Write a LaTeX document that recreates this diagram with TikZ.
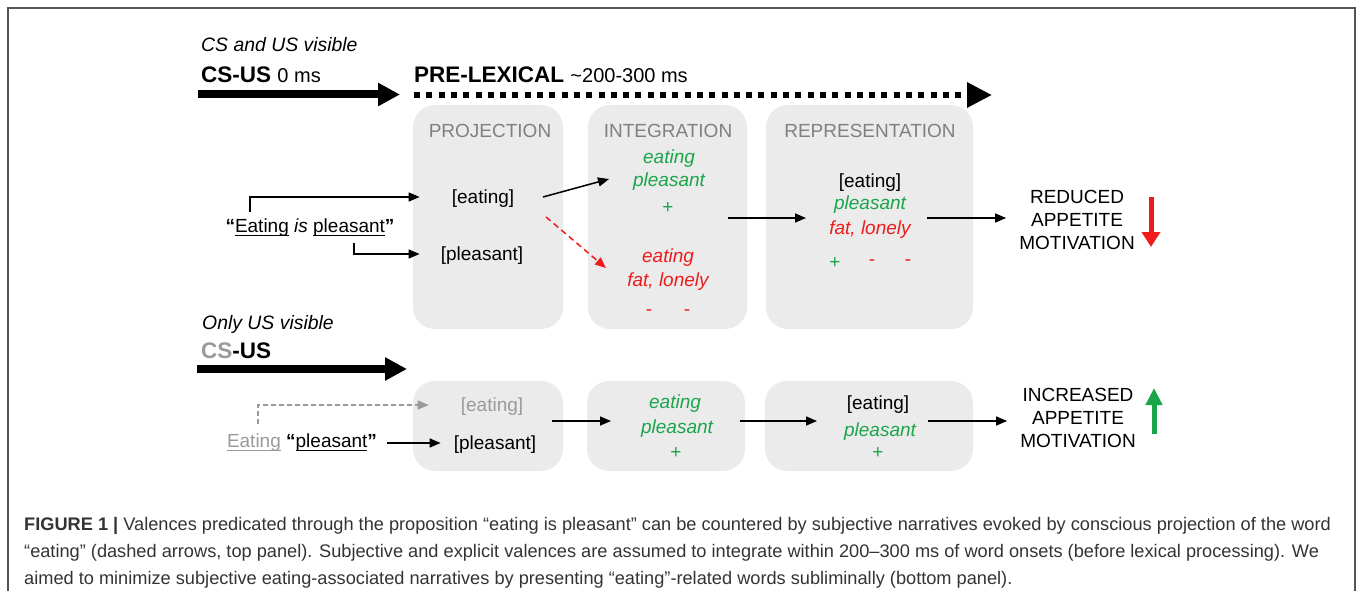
\documentclass[tikz,border=0pt]{standalone}
\usepackage{fontspec}
\setmainfont{Liberation Sans}
\usetikzlibrary{arrows.meta}
\definecolor{boxgray}{HTML}{EBEBEB}
\definecolor{titlegray}{HTML}{808080}
\definecolor{vgreen}{HTML}{1BA54A}
\definecolor{vred}{HTML}{EE1C1C}
\definecolor{framegray}{HTML}{555555}
\definecolor{capcol}{HTML}{333333}
\definecolor{lightword}{HTML}{9A9A9A}
\newcommand\ulw[2][black]{\begingroup\setbox0\hbox{#2}\rlap{\textcolor{#1}{\rule[-3.4pt]{\wd0}{1.4pt}}}\box0\endgroup}
\tikzset{
  txt/.style={inner sep=0pt, text height=13.7pt, text depth=0pt, font=\fontsize{19}{23}\selectfont},
  ttl/.style={txt, text=titlegray},
  gr/.style={txt, text=vgreen, font=\fontsize{19}{23}\selectfont\itshape},
  rd/.style={txt, text=vred, font=\fontsize{19}{23}\selectfont\itshape},
  lbl/.style={inner sep=0pt, text height=14pt, text depth=0pt, anchor=west, font=\fontsize{19.4}{23}\selectfont\itshape},
  hdr/.style={inner sep=0pt, text height=16pt, text depth=0pt, anchor=west, font=\fontsize{22.5}{26}\selectfont},
  outc/.style={inner sep=0pt, align=center, font=\fontsize{19}{23}\selectfont},
  conn/.style={line width=1.5pt, -{Triangle[length=11pt,width=9pt]}},
  bigarrow/.style={line width=8pt, -{Triangle[length=22pt,width=22pt]}},
  panel/.style={fill=boxgray, draw=none, rounded corners=22pt, inner sep=0pt},
  capline/.style={inner sep=0pt, anchor=base west, text=capcol, font=\fontsize{18.2}{27}\selectfont},
}
\begin{document}
\begin{tikzpicture}[x=1pt, y=-1pt]
\useasboundingbox (0,0) rectangle (1357,591);
% frame
\draw[framegray, line width=1.6pt] (8,591) -- (8,8) -- (1355,8) -- (1355,591);

% ---------- top panel headers ----------
\node[lbl] (csusvis) at (201,45) {CS and US visible};
\node[hdr] (csus) at (201,75) {\textbf{CS-US} {\fontsize{20}{24}\selectfont 0 ms}};
\node[hdr] (prelex) at (414,75) {\textbf{PRE-LEXICAL} {\fontsize{20}{24}\selectfont \textasciitilde200-300 ms}};
\coordinate (a1s) at (198,94.5);
\coordinate (a1e) at (400,94.5);
\draw[bigarrow] (a1s) -- (a1e);
\coordinate (a2s) at (414,95);
\coordinate (a2e) at (992,95);
\draw[line width=6pt, dash pattern=on 6pt off 6.3pt, -{Triangle[length=25pt,width=24pt]}] (a2s) -- (a2e);

% ---------- top panel boxes ----------
\node[panel, minimum width=150pt, minimum height=224pt] (proj) at (488,217) {};
\node[panel, minimum width=159pt, minimum height=224pt] (integ) at (667.5,217) {};
\node[panel, minimum width=207pt, minimum height=224pt] (repr) at (869.5,217) {};
\node[ttl] (tproj) at (490,131) {PROJECTION};
\node[ttl] (tint) at (668,131) {INTEGRATION};
\node[ttl] (trep) at (870,131) {REPRESENTATION};

% projection content
\node[txt] (ieat) at (483,197) {[eating]};
\node[txt] (ipl) at (482,254) {[pleasant]};
\node[txt] (sent) at (310,226) {\textbf{“}\ulw{Eating} \textit{is} \ulw{pleasant}\textbf{”}};
\coordinate (s1) at (250,212);
\coordinate (s2) at (354,243);
\draw[conn] (s1) |- ([xshift=-32pt]ieat.west);
\draw[conn] (s2) |- ([xshift=-21pt]ipl.west);

% integration content
\node[gr] (ge) at (669,157) {eating};
\node[gr] (gp) at (669,180) {pleasant};
\node[txt, text=vgreen] (gplus) at (668,207) {+};
\node[rd] (re) at (668,256) {eating};
\node[rd] (rf) at (668,280) {fat, lonely};
\node[txt, text=vred] (rm1) at (649,309) {-};
\node[txt, text=vred] (rm2) at (687,309) {-};
\coordinate (p1) at (543,197);
\coordinate (p2) at (609,179);
\coordinate (q1) at (546,217);
\coordinate (q2) at (606,268);
\draw[conn] (p1) -- (p2);
\draw[conn, vred, dash pattern=on 6pt off 4pt] (q1) -- (q2);

% representation content
\node[txt] (reat) at (870,181) {[eating]};
\node[gr] (rpl) at (870,203) {pleasant};
\node[rd] (rfl) at (870,228) {fat, lonely};
\node[txt, text=vgreen] (rp) at (835,262) {+};
\node[txt, text=vred] (rmm1) at (872,259) {-};
\node[txt, text=vred] (rmm2) at (908,259) {-};
\coordinate (ia) at (728,218);
\coordinate (ib) at (806,218);
\draw[conn] (ia) -- (ib);

% outcome top
\node[outc] (reduced) at (1077,219.5) {REDUCED\\APPETITE\\MOTIVATION};
\coordinate (ra) at (927,218);
\draw[conn] (ra) -- ([xshift=-13pt]reduced.west |- ra);
\coordinate (dna) at (1151,197);
\coordinate (dnb) at (1151,247);
\draw[vred, line width=5pt, -{Triangle[length=15pt,width=18pt]}] (dna) -- (dnb);

% ---------- bottom panel ----------
\node[lbl] (onlyus) at (202,322) {Only US visible};
\node[hdr] (csus2) at (201,350) {\textbf{\textcolor{lightword}{CS}-US}};
\coordinate (b1s) at (197,369);
\coordinate (b1e) at (407,369);
\draw[bigarrow] (b1s) -- (b1e);

\node[panel, minimum width=150pt, minimum height=90pt] (bx1) at (488,426) {};
\node[panel, minimum width=158pt, minimum height=90pt] (bx2) at (666,426) {};
\node[panel, minimum width=208pt, minimum height=90pt] (bx3) at (869,426) {};

\node[txt, text=lightword] (beat) at (492,405) {[eating]};
\node[txt] (bpl) at (495,443) {[pleasant]};
\node[txt] (bsent) at (302,441) {\textcolor{lightword}{\ulw[lightword]{Eating}} \textbf{“}\ulw{pleasant}\textbf{”}};
\coordinate (bs1) at (258,424);
\coordinate (bs2) at (387,443);
\draw[conn, lightword, dash pattern=on 5pt off 3pt] (bs1) |- ([xshift=-32pt]beat.west);
\draw[conn] (bs2) -- ([xshift=-13pt]bpl.west);

\node[gr] (b2e) at (675,402) {eating};
\node[gr] (b2p) at (677,427) {pleasant};
\node[txt, text=vgreen] (b2plus) at (676,452) {+};
\coordinate (c1) at (552,421);
\coordinate (c2) at (611,421);
\draw[conn] (c1) -- (c2);

\node[txt] (b3e) at (878,403) {[eating]};
\node[gr] (b3p) at (880,430) {pleasant};
\node[txt, text=vgreen] (b3plus) at (878,452) {+};
\coordinate (c3) at (740,421);
\coordinate (c4) at (817,421);
\draw[conn] (c3) -- (c4);

\node[outc] (incr) at (1078,418) {INCREASED\\APPETITE\\MOTIVATION};
\coordinate (c5) at (928,421);
\draw[conn] (c5) -- ([xshift=-13pt]incr.west |- c5);
\coordinate (upa) at (1154,434);
\coordinate (upb) at (1154,388);
\draw[vgreen, line width=5pt, -{Triangle[length=17pt,width=16pt]}] (upa) -- (upb);

% ---------- caption ----------
\node[capline] (cap1) at (24,530) {\textbf{FIGURE 1 |} Valences predicated through the proposition “eating is pleasant” can be countered by subjective narratives evoked by conscious projection of the word};
\node[capline] (cap2) at (24,557) {“eating” (dashed arrows, top panel). Subjective and explicit valences are assumed to integrate within 200–300 ms of word onsets (before lexical processing). We};
\node[capline] (cap3) at (24,584) {aimed to minimize subjective eating-associated narratives by presenting “eating”-related words subliminally (bottom panel).};
\end{tikzpicture}
\end{document}
